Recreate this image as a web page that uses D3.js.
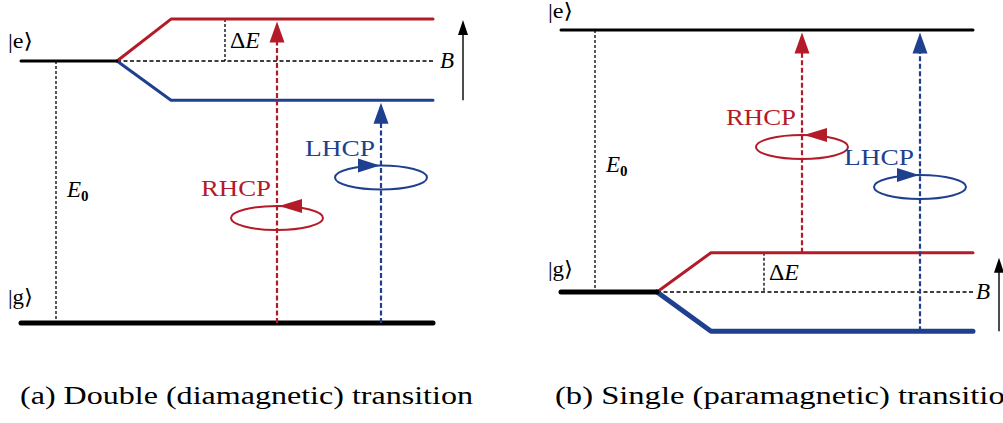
<!DOCTYPE html>
<html>
<head>
<meta charset="utf-8">
<script src="https://cdn.jsdelivr.net/npm/d3@7"></script>
<style>
  html, body { margin: 0; padding: 0; background: #fff; }
  text { font-family: "Liberation Serif", "DejaVu Serif", serif; }
</style>
</head>
<body>
<script>
// ---------- data ----------
const levelLabels = ["|g\u27E9", "|e\u27E9"];          // ground, excited
const energyA = [0, 10];                                   // level energies, panel (a) (units of E0/10)
const energyB = [0, 10];                                   // level energies, panel (b)
const zeemanA = [1.6, -1.5];                               // Zeeman shift of |e> in (a): [RHCP branch, LHCP branch]
const zeemanB = [1.5, -1.5];                               // Zeeman shift of |g> in (b): [RHCP branch, LHCP branch]
const polLabels = ["RHCP", "LHCP"];
const captions = ["(a) Double (diamagnetic) transition", "(b) Single (paramagnetic) transition"];

// ---------- style ----------
const RED = "#b31b29", BLUE = "#1f3f8f", BLACK = "#000";
const FS = 23;

const svg = d3.select("body").append("svg")
  .attr("width", 1003).attr("height", 423);

const panels = [
  { dx: 0,   energy: energyA, zeeman: zeemanA, splitIdx: 1,
    y: d3.scaleLinear().domain([0, 10]).range([323, 61]),
    arrowX: [277, 381], ellY: [218, 177.5], e0x: 56, dEx: 225, bx: 463, e0LabelY: 197,
    labelY: [304, 48], thickBlue: 3 },
  { dx: 540, energy: energyB, zeeman: zeemanB, splitIdx: 0,
    y: d3.scaleLinear().domain([0, 10]).range([292, 30]),
    arrowX: [262, 380], ellY: [147, 187], e0x: 55, dEx: 224, bx: 459, e0LabelY: 172,
    labelY: [276, 18], thickBlue: 5 }
];

const X0 = 21, XK = 117, XP = 171, XE = 433;
const colors = [RED, BLUE];
const levelW = [5, 3];

function vArrowHead(g, x, tipY, color, len, hw) {
  g.append("path")
    .attr("d", `M${x},${tipY} L${x - hw},${tipY + len} L${x + hw},${tipY + len} Z`)
    .attr("fill", color);
}

panels.forEach((p, pi) => {
  const g = svg.append("g").attr("transform", `translate(${p.dx},0)`);
  const y = p.y;
  const s = p.splitIdx, o = 1 - s;
  const ys = y(p.energy[s]);
  const yo = y(p.energy[o]);
  const ySplit = p.zeeman.map(z => y(p.energy[s] + z));

  // E0 dashed line between levels
  g.append("line").attr("x1", p.e0x).attr("x2", p.e0x)
    .attr("y1", y(p.energy[1])).attr("y2", y(p.energy[0]))
    .attr("stroke", BLACK).attr("stroke-width", 1.3).attr("stroke-dasharray", "3,2");

  // reference dashed line of split level
  g.append("line").attr("x1", XK).attr("x2", XE + 2).attr("y1", ys).attr("y2", ys)
    .attr("stroke", BLACK).attr("stroke-width", 1.3).attr("stroke-dasharray", "4,2.5");

  // Delta E dashed
  g.append("line").attr("x1", p.dEx).attr("x2", p.dEx).attr("y1", ySplit[0]).attr("y2", ys)
    .attr("stroke", BLACK).attr("stroke-width", 1.3).attr("stroke-dasharray", "3,2");

  // unsplit level (full width)
  g.append("line").attr("x1", X0).attr("x2", XE).attr("y1", yo).attr("y2", yo)
    .attr("stroke", BLACK).attr("stroke-width", levelW[o]).attr("stroke-linecap", "round");

  // split branches
  [1, 0].forEach(i => {
    g.append("path")
      .attr("d", d3.line()([[XK, ys], [XP, ySplit[i]], [XE, ySplit[i]]]))
      .attr("fill", "none").attr("stroke", colors[i])
      .attr("stroke-width", i === 1 ? p.thickBlue : 3)
      .attr("stroke-linecap", "round").attr("stroke-linejoin", "round");
  });
  // zero-field part of split level
  g.append("line").attr("x1", X0).attr("x2", XK).attr("y1", ys).attr("y2", ys)
    .attr("stroke", BLACK).attr("stroke-width", levelW[s]).attr("stroke-linecap", "round");

  // transition arrows
  [0, 1].forEach(i => {
    const x = p.arrowX[i];
    let yFrom, yTo;
    if (s === 1) { yFrom = yo; yTo = ySplit[i]; }   // g -> split e
    else { yFrom = ySplit[i]; yTo = yo; }           // split g -> e
    const tip = yTo + 2.5, len = 21;
    g.append("line").attr("x1", x).attr("x2", x).attr("y1", yFrom).attr("y2", tip + len - 1)
      .attr("stroke", colors[i]).attr("stroke-width", 2.2).attr("stroke-dasharray", "5,2.5");
    vArrowHead(g, x, tip, colors[i], len, 7.5);

    // polarization ellipse
    const cy = p.ellY[i], cx = x;
    g.append("ellipse").attr("cx", cx).attr("cy", cy).attr("rx", 46).attr("ry", 12)
      .attr("fill", "none").attr("stroke", colors[i]).attr("stroke-width", 2);
    const top = cy - 12;
    if (i === 0) { // arrow pointing left
      g.append("path").attr("d", `M${cx + 2},${top} L${cx + 25},${top - 7} L${cx + 25},${top + 7} Z`)
        .attr("fill", colors[i]);
    } else {       // pointing right
      g.append("path").attr("d", `M${cx - 1},${top} L${cx - 23},${top - 7} L${cx - 23},${top + 7} Z`)
        .attr("fill", colors[i]);
    }
    g.append("text").attr("x", cx - 6).attr("y", cy - 22)
      .attr("text-anchor", "end").attr("fill", colors[i])
      .attr("font-size", FS).attr("textLength", 70).attr("lengthAdjust", "spacingAndGlyphs")
      .text(polLabels[i]);
  });

  // B arrow
  const yLow = ySplit[1], yTopB = ySplit[0] + (s === 1 ? 1 : 5);
  g.append("line").attr("x1", p.bx).attr("x2", p.bx).attr("y1", yLow).attr("y2", yTopB + 12)
    .attr("stroke", BLACK).attr("stroke-width", 1.4);
  vArrowHead(g, p.bx, yTopB, BLACK, 15, 5);
  g.append("text").attr("x", p.bx - 23).attr("y", ys + 7)
    .attr("font-size", FS).attr("font-style", "italic").text("B");

  // Delta E label
  const dE = g.append("text").attr("x", p.dEx + 5).attr("y", (ySplit[0] + ys) / 2 + 8)
    .attr("font-size", FS).attr("textLength", 30).attr("lengthAdjust", "spacingAndGlyphs");
  dE.append("tspan").text("\u0394");
  dE.append("tspan").attr("font-style", "italic").text("E");

  // E0 label
  const e0 = g.append("text").attr("x", p.e0x + 11).attr("y", p.e0LabelY).attr("font-size", FS);
  e0.append("tspan").attr("font-style", "italic").text("E");
  e0.append("tspan").attr("font-size", 15).attr("font-weight", "bold").attr("dy", 4).text("0");

  // level labels
  [0, 1].forEach(k => {
    g.append("text").attr("x", 8).attr("y", p.labelY[k]).attr("font-size", FS - 2)
      .attr("textLength", 25).attr("lengthAdjust", "spacingAndGlyphs")
      .text(levelLabels[k]);
  });

  // caption
  g.append("text").attr("x", pi === 0 ? 20 : 15).attr("y", 404)
    .attr("font-size", 25)
    .attr("textLength", pi === 0 ? 453 : 466).attr("lengthAdjust", "spacingAndGlyphs")
    .text(captions[pi]);
});
</script>
</body>
</html>
